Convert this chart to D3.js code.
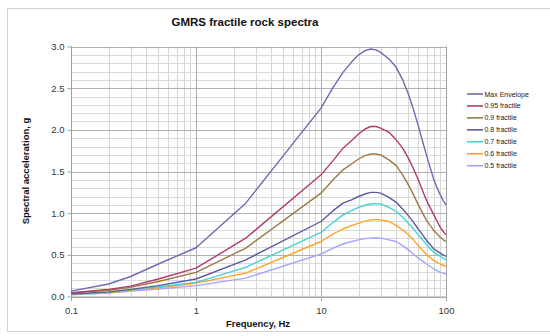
<!DOCTYPE html>
<html><head><meta charset="utf-8">
<script src="https://cdn.jsdelivr.net/npm/d3@7"></script>
<style>body{margin:0;background:#fff}svg{display:block;font-family:"Liberation Sans",Arial,sans-serif}</style>
</head><body><svg id="c" width="550" height="336"></svg>
<script>
const freqs = [0.1,0.2,0.3,0.5,1,2.5,10,12.5,15,17.5,20,22.5,25,27.5,30,35,40,45,50,55,60,65,70,75,80,85,90,95,100];
const seriesNames = ["Max Envelope","0.95 fractile","0.9 fractile","0.8 fractile","0.7 fractile","0.6 fractile","0.5 fractile"];
const seriesColors = ["#6b6bb0","#b03a6e","#9c7844","#5a5a9e","#44d2d2","#ffa020","#a4a4ff"];
const maxEnv = [0.065,0.15,0.24,0.39,0.585,1.12,2.26,2.51,2.69,2.81,2.90,2.95,2.97,2.96,2.93,2.85,2.75,2.60,2.43,2.24,2.05,1.86,1.69,1.54,1.40,1.30,1.22,1.15,1.10];
const f95 = [0.045,0.085,0.125,0.21,0.34,0.70,1.46,1.63,1.78,1.87,1.95,2.01,2.04,2.04,2.02,1.97,1.88,1.78,1.66,1.53,1.40,1.27,1.15,1.06,0.98,0.90,0.83,0.78,0.74];
const f90 = [0.04,0.075,0.11,0.18,0.29,0.58,1.24,1.40,1.52,1.59,1.65,1.69,1.71,1.71,1.70,1.64,1.57,1.46,1.34,1.22,1.10,1.00,0.91,0.85,0.79,0.75,0.71,0.68,0.66];
const f80 = [0.03,0.055,0.085,0.13,0.21,0.44,0.90,1.03,1.12,1.16,1.20,1.23,1.25,1.25,1.24,1.19,1.13,1.05,0.97,0.89,0.81,0.74,0.67,0.62,0.57,0.545,0.52,0.50,0.48];
const f70 = [0.025,0.05,0.08,0.115,0.17,0.35,0.77,0.89,0.98,1.03,1.07,1.095,1.11,1.115,1.11,1.07,1.02,0.95,0.88,0.81,0.74,0.68,0.62,0.57,0.53,0.505,0.48,0.46,0.44];
const f60 = [0.025,0.045,0.075,0.105,0.16,0.28,0.66,0.75,0.81,0.85,0.88,0.905,0.92,0.925,0.92,0.90,0.85,0.80,0.74,0.68,0.61,0.555,0.50,0.465,0.43,0.41,0.39,0.375,0.36];
const f50 = [0.02,0.04,0.065,0.09,0.13,0.22,0.51,0.58,0.63,0.66,0.68,0.695,0.70,0.705,0.70,0.68,0.66,0.61,0.56,0.51,0.46,0.425,0.39,0.36,0.33,0.31,0.29,0.28,0.27];
const allSeries = [maxEnv,f95,f90,f80,f70,f60,f50];
const xTickLabels = ["0.1","1","10","100"];
const yTickLabels = ["0.0","0.5","1.0","1.5","2.0","2.5","3.0"];

const svg = d3.select("#c");
const L=71, R=446, T=46.5, B=296.5;
const x = d3.scaleLog().domain([0.1,100]).range([L,R]);
const y = d3.scaleLinear().domain([0,3]).range([B,T]);

svg.append("rect").attr("x",7.5).attr("y",8.5).attr("width",560).attr("height",323)
  .attr("fill","#fff").attr("stroke","#d4d4d4");

const g = svg.append("g");
const minorX = [];
[0.1,1,10].forEach(d=>{for(let k=2;k<=9;k++) minorX.push(d*k);});
g.selectAll(".mx").data(minorX).join("line").attr("x1",d=>Math.round(x(d))+0.5).attr("x2",d=>Math.round(x(d))+0.5)
  .attr("y1",T).attr("y2",B).attr("stroke","#d6d6d6");
const minorY = d3.range(1,30).map(i=>i/10).filter(v=>Math.abs(v*2-Math.round(v*2))>1e-6);
g.selectAll(".my").data(minorY).join("line").attr("y1",d=>Math.round(y(d))+0.5).attr("y2",d=>Math.round(y(d))+0.5)
  .attr("x1",L).attr("x2",R).attr("stroke","#dadada");
const majY = yTickLabels.map(Number);
g.selectAll(".My").data(majY).join("line").attr("y1",d=>Math.round(y(d))+0.5).attr("y2",d=>Math.round(y(d))+0.5)
  .attr("x1",L).attr("x2",R).attr("stroke","#b0b0b0");
const majX = xTickLabels.map(Number);
g.selectAll(".Mx").data(majX).join("line").attr("x1",d=>Math.round(x(d))+0.5).attr("x2",d=>Math.round(x(d))+0.5)
  .attr("y1",T).attr("y2",B).attr("stroke","#b0b0b0");

const yAxis = d3.axisLeft(y).tickValues(majY).tickFormat((d,i)=>yTickLabels[i]).tickSize(4).tickPadding(3);
const ya = svg.append("g").attr("transform",`translate(${L+0.5},0)`).call(yAxis);
const xAxis = d3.axisBottom(x).tickValues(majX).tickFormat((d,i)=>xTickLabels[i]).tickSize(4).tickPadding(6);
const xa = svg.append("g").attr("transform",`translate(0,${B+0.5})`).call(xAxis);
[ya,xa].forEach(a=>{
  a.selectAll("path,line").attr("stroke","#a0a0a0");
  a.selectAll("text").attr("fill","#333").style("font-size","9.5px").style("font-family","'Liberation Sans',Arial,sans-serif");
});
ya.select(".domain").attr("d",`M0,${B}V${T}`);
xa.select(".domain").attr("d",`M${L},0H${R}`);
svg.append("line").attr("x1",R+0.5).attr("x2",R+0.5).attr("y1",T).attr("y2",B).attr("stroke","#a0a0a0");

const line = d3.line().x((d,i)=>x(freqs[i])).y(d=>y(d));
svg.append("g").selectAll("path").data(allSeries.slice().reverse()).join("path")
  .attr("d",line).attr("fill","none").attr("stroke-linejoin","round")
  .attr("stroke",(d,i)=>seriesColors[seriesColors.length-1-i]).attr("stroke-width",1.4);

svg.append("text").attr("x",245).attr("y",26).attr("text-anchor","middle")
  .style("font-weight","bold").style("font-size","11.5px").attr("fill","#111").text("GMRS fractile rock spectra");
svg.append("text").attr("x",258).attr("y",327).attr("text-anchor","middle")
  .style("font-weight","bold").style("font-size","9.5px").attr("fill","#111").text("Frequency, Hz");
svg.append("text").attr("transform","translate(29,171) rotate(-90)").attr("text-anchor","middle")
  .style("font-weight","bold").style("font-size","9.5px").attr("fill","#111").text("Spectral acceleration, g");

const lg = svg.append("g");
const ly = d3.scalePoint().domain(seriesNames).range([94,165.7]);
seriesNames.forEach((n,i)=>{
  lg.append("line").attr("x1",467).attr("x2",483).attr("y1",ly(n)).attr("y2",ly(n))
    .attr("stroke",seriesColors[i]).attr("stroke-width",1.6);
  lg.append("text").attr("x",484.5).attr("y",ly(n)+2.5).style("font-size","7px").attr("fill","#222").text(n);
});
</script></body></html>
